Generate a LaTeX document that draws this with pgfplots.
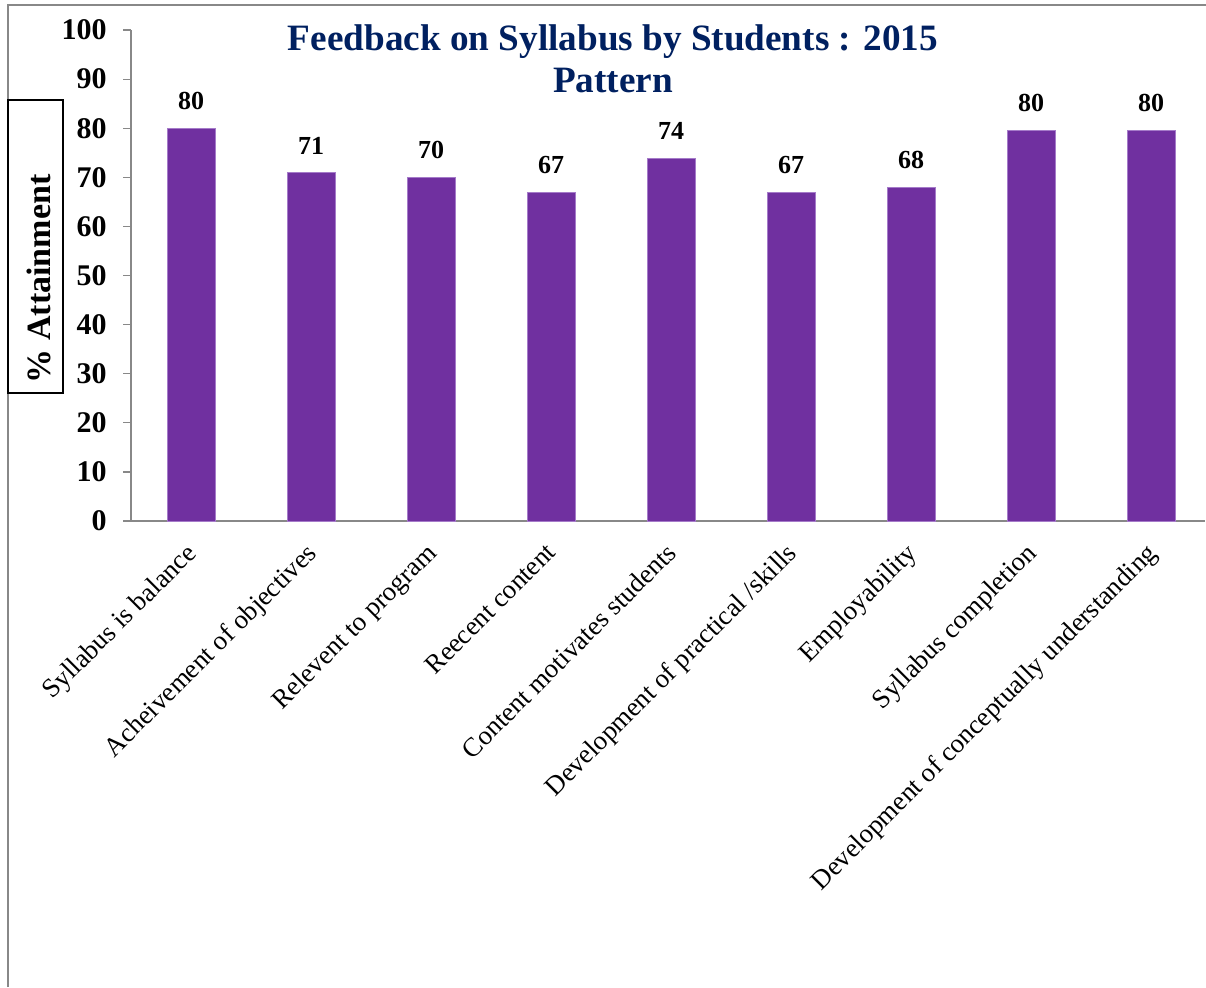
\documentclass[border=0pt]{standalone}
\usepackage{fontspec}
\setmainfont{Liberation Serif}
\usepackage{pgfplots}
\pgfplotsset{compat=1.18}
\definecolor{barpurple}{HTML}{7030A0}
\definecolor{baredge}{HTML}{A57BC9}
\definecolor{titleblue}{HTML}{002060}
\definecolor{axgray}{HTML}{888888}
\begin{document}
\begin{tikzpicture}
% page is 1206x987 px at 0.5pt per px
\useasboundingbox (0,0) rectangle (603pt,493.5pt);
\draw[axgray, line width=1pt] (4pt,0) -- (4pt,491pt) -- (603pt,491pt);
\begin{axis}[
    at={(65.5pt,233pt)}, anchor=south west,
    scale only axis, width=537pt, height=245.5pt,
    ymin=0, ymax=100, ytick={0,10,...,100},
    xmin=-0.5, xmax=8.45,
    xtick={0,...,8},
    xticklabels={
        Syllabus is balance,
        Acheivement of objectives,
        Relevent to program,
        Reecent content,
        Content motivates students,
        Development of practical /skills,
        Employability,
        Syllabus completion,
        Development of conceptually understanding},
    % shifts below act in the rotated frame
    x tick label style={rotate=45, anchor=north east, font=\fontsize{13.4}{15}\selectfont, inner sep=0pt, xshift=-6.5pt, yshift=-2pt},
    y tick label style={font=\fontsize{15}{17}\selectfont\bfseries, inner sep=0pt, xshift=-8pt},
    /pgf/number format/assume math mode=true,
    extra x ticks={-0.5,0.5,...,8.5},
    extra x tick labels={},
    extra x tick style={major tick length=4pt, tick style={axgray}},
    tick align=outside,
    major tick length=4pt,
    x tick style={draw=none},
    y tick style={axgray, line width=0.6pt},
    axis x line*=bottom, axis y line*=left,
    axis line style={axgray, line width=0.8pt, -},
    ybar, bar width=24pt,
    nodes near coords,
    point meta=explicit symbolic,
    every node near coord/.append style={font=\fontsize{13}{15}\selectfont\bfseries, inner sep=0pt, anchor=south, yshift=9pt},
    clip=false,
]
\addplot[fill=barpurple, draw=baredge, line width=0.4pt] coordinates {
    (0,80) [80]
    (1,70.9) [71]
    (2,70) [70]
    (3,67) [67]
    (4,73.9) [74]
    (5,67) [67]
    (6,68) [68]
    (7,79.6) [80]
    (8,79.6) [80]
};
\end{axis}
\node[font=\fontsize{18.6}{21}\selectfont\bfseries, text=titleblue, align=center] at (306.5pt,464pt) {Feedback on Syllabus by Students : 2015\\Pattern};
\draw[black, line width=0.7pt] (4pt,297pt) rectangle (31.5pt,443.5pt);
\node[rotate=90, font=\fontsize{17}{20}\selectfont\bfseries] at (19.25pt,354pt) {\% Attainment};
\end{tikzpicture}
\end{document}
